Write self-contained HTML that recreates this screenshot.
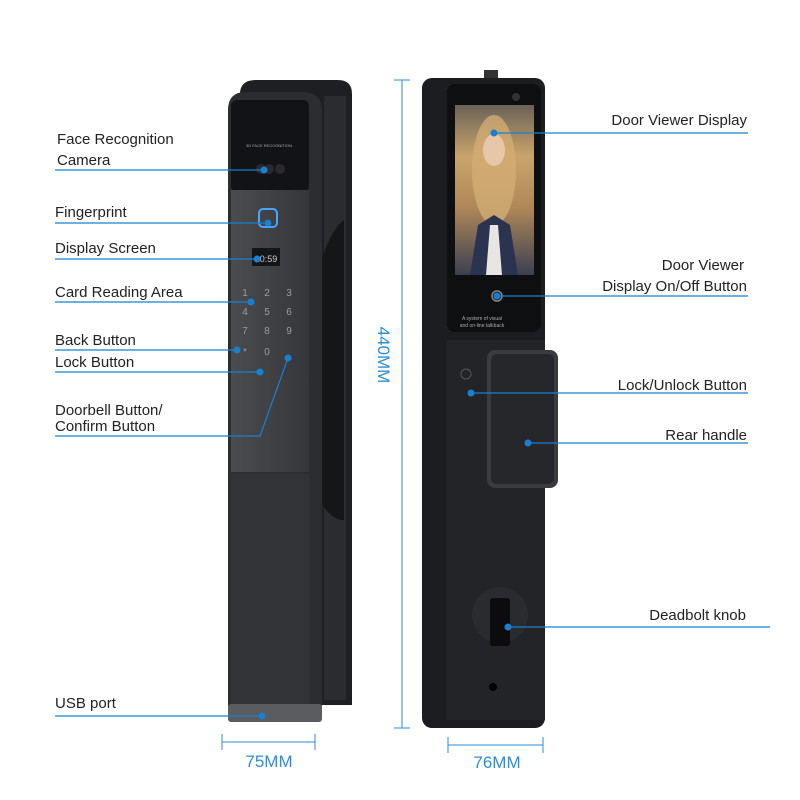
<!DOCTYPE html>
<html><head><style>body{margin:0;background:#fff}svg{display:block}text{font-family:"Liberation Sans",sans-serif}</style></head><body>
<svg width="800" height="800" viewBox="0 0 800 800">
<defs>
<linearGradient id="pl" x1="0" x2="1"><stop offset="0" stop-color="#4a4c50"/><stop offset="1" stop-color="#34363a"/></linearGradient>
<linearGradient id="ph" x1="0" x2="0" y1="0" y2="1"><stop offset="0" stop-color="#6a6258"/><stop offset="0.3" stop-color="#c9a46a"/><stop offset="0.6" stop-color="#b08858"/><stop offset="1" stop-color="#3a4050"/></linearGradient>
</defs>
<!-- left lock -->
<path d="M240 94 Q240 80 256 80 L338 80 Q352 80 352 94 L352 705 L240 705 Z" fill="#1e1f22"/>
<path d="M324 96 L346 96 L346 700 L324 700 Z" fill="#2b2c30"/>
<path d="M318 270 Q330 230 344 220 L344 520 Q330 520 320 500 Z" fill="#151618"/>
<path d="M228 110 Q228 92 246 92 L306 92 Q322 94 322 112 L322 706 L228 706 Z" fill="#2c2d31"/>
<rect x="231" y="100" width="78" height="92" rx="6" fill="#121316"/>
<rect x="231" y="190" width="78" height="282" fill="url(#pl)"/>
<rect x="231" y="474" width="78" height="232" fill="#323337"/>
<rect x="228" y="704" width="94" height="18" rx="3" fill="#5a5c60"/>
<rect x="259" y="209" width="18" height="18" rx="4" fill="none" stroke="#4aa4ff" stroke-width="2"/>
<rect x="252" y="248" width="28" height="18" fill="#141518"/>
<text x="266" y="262" font-size="9" fill="#ccc" text-anchor="middle">10:59</text>
<text x="269" y="147" font-size="4" fill="#aaa" text-anchor="middle">3D FACE RECOGNITION</text>
<circle cx="261" cy="169" r="5" fill="#2a2a2e"/><circle cx="269" cy="169" r="5" fill="#2a2a2e"/><circle cx="280" cy="169" r="5" fill="#2a2a2e"/>
<g font-size="10" fill="#9a9ca0" text-anchor="middle">
<text x="245" y="296">1</text><text x="267" y="296">2</text><text x="289" y="296">3</text>
<text x="245" y="315">4</text><text x="267" y="315">5</text><text x="289" y="315">6</text>
<text x="245" y="334">7</text><text x="267" y="334">8</text><text x="289" y="334">9</text>
<text x="245" y="355">*</text><text x="267" y="355">0</text>
</g>
<!-- right lock -->
<rect x="484" y="70" width="14" height="12" fill="#333"/>
<rect x="422" y="78" width="123" height="650" rx="10" fill="#1c1d20"/>
<rect x="447" y="84" width="94" height="248" rx="8" fill="#0e0f11"/>
<rect x="455" y="105" width="79" height="170" fill="url(#ph)"/>
<ellipse cx="494" cy="170" rx="22" ry="55" fill="#d2ad74" opacity="0.8"/>
<ellipse cx="494" cy="150" rx="11" ry="16" fill="#e8c6a8"/>
<path d="M470 275 L478 225 L494 215 L510 225 L518 275 Z" fill="#2a3350"/>
<path d="M486 275 L490 225 L498 225 L502 275 Z" fill="#e8e6e2"/>
<circle cx="516" cy="97" r="4" fill="#333"/>
<circle cx="497" cy="296" r="5" fill="none" stroke="#888" stroke-width="1.5"/>
<text x="482" y="320" font-size="5" fill="#aaa" text-anchor="middle">A system of visual</text>
<text x="482" y="327" font-size="5" fill="#aaa" text-anchor="middle">and on-line talkback</text>
<rect x="447" y="340" width="98" height="380" fill="#232427"/>
<circle cx="466" cy="374" r="5" fill="none" stroke="#555" stroke-width="1"/>
<rect x="487" y="350" width="71" height="138" rx="8" fill="#3a3b3e"/>
<rect x="491" y="354" width="63" height="130" rx="6" fill="#26272a"/>
<circle cx="500" cy="615" r="28" fill="#2a2b2e"/>
<rect x="490" y="598" width="20" height="48" rx="3" fill="#0c0c0e"/>
<circle cx="493" cy="687" r="4" fill="#000"/>
<!-- dimensions -->
<g stroke="#2a8fd6" stroke-width="1" fill="none">
<line x1="402" y1="80" x2="402" y2="728"/><line x1="394" y1="80" x2="410" y2="80"/><line x1="394" y1="728" x2="410" y2="728"/>
<line x1="222" y1="742" x2="315" y2="742"/><line x1="222" y1="734" x2="222" y2="750"/><line x1="315" y1="734" x2="315" y2="750"/>
<line x1="448" y1="745" x2="543" y2="745"/><line x1="448" y1="737" x2="448" y2="753"/><line x1="543" y1="737" x2="543" y2="753"/>
</g>
<g fill="#2a8fd6" font-size="17">
<text transform="translate(378 355) rotate(90)" text-anchor="middle">440MM</text>
<text x="269" y="767" text-anchor="middle">75MM</text>
<text x="497" y="768" text-anchor="middle">76MM</text>
</g>
<!-- callouts -->
<g stroke="#1a7fd0" stroke-width="1.2" fill="none">
<path d="M55 170 L264 170"/><path d="M55 223 L268 223"/><path d="M55 259 L257 259"/><path d="M55 302 L251 302"/>
<path d="M55 350 L237 350"/><path d="M55 372 L260 372"/><path d="M55 436 L260 436 L288 358"/><path d="M55 716 L262 716"/>
<path d="M494 133 L748 133"/><path d="M497 296 L748 296"/><path d="M471 393 L748 393"/><path d="M528 443 L748 443"/><path d="M508 627 L770 627"/>
</g>
<g fill="#1a7fd0">
<circle cx="264" cy="170" r="3.5"/><circle cx="268" cy="223" r="3.5"/><circle cx="257" cy="259" r="3.5"/><circle cx="251" cy="302" r="3.5"/>
<circle cx="237" cy="350" r="3.5"/><circle cx="260" cy="372" r="3.5"/><circle cx="288" cy="358" r="3.5"/><circle cx="262" cy="716" r="3.5"/>
<circle cx="494" cy="133" r="3.5"/><circle cx="497" cy="296" r="3.5"/><circle cx="471" cy="393" r="3.5"/><circle cx="528" cy="443" r="3.5"/><circle cx="508" cy="627" r="3.5"/>
</g>
<g font-size="15" fill="#222">
<text x="57" y="144">Face Recognition</text><text x="57" y="165">Camera</text>
<text x="55" y="217">Fingerprint</text><text x="55" y="253">Display Screen</text><text x="55" y="297">Card Reading Area</text>
<text x="55" y="345">Back Button</text><text x="55" y="367">Lock Button</text>
<text x="55" y="415">Doorbell Button/</text><text x="55" y="431">Confirm Button</text>
<text x="55" y="708">USB port</text>
</g>
<g font-size="15" fill="#222" text-anchor="end">
<text x="747" y="125">Door Viewer Display</text>
<text x="744" y="270">Door Viewer</text><text x="747" y="291">Display On/Off Button</text>
<text x="747" y="390">Lock/Unlock Button</text><text x="747" y="440">Rear handle</text>
<text x="746" y="620">Deadbolt knob</text>
</g>
</svg>
</body></html>
